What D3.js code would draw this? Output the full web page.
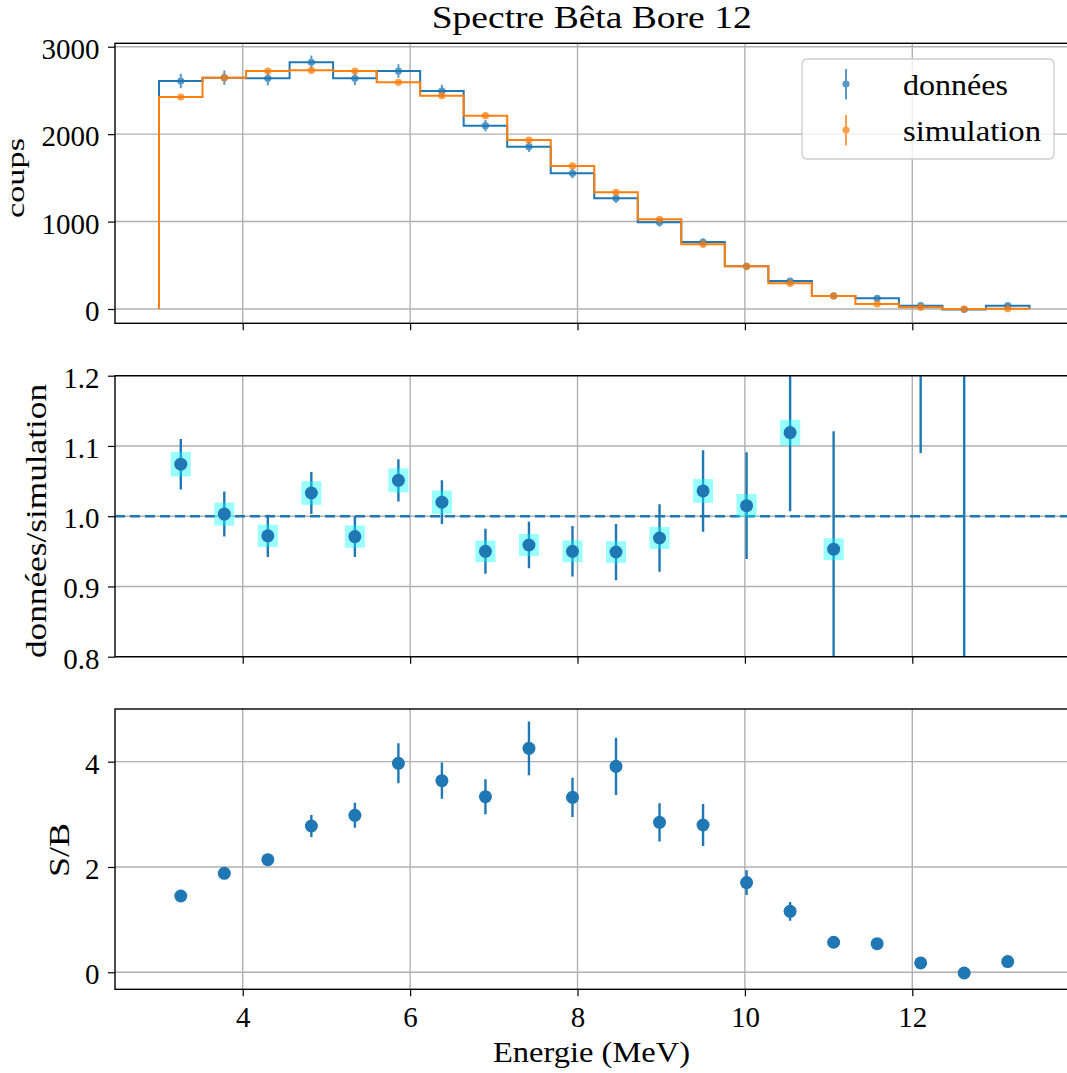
<!DOCTYPE html>
<html>
<head>
<meta charset="utf-8">
<script src="https://cdn.jsdelivr.net/npm/d3@7"></script>
<style>
html,body{margin:0;padding:0;background:#fff;}
svg{display:block;}
text{font-family:"Liberation Serif","DejaVu Serif",serif;fill:#000;}
</style>
</head>
<body>
<script>
// ---------- data ----------
const binCenters = [3.26, 3.78, 4.30, 4.82, 5.34, 5.86, 6.38, 6.90, 7.42, 7.94,
                    8.46, 8.98, 9.50, 10.02, 10.54, 11.06, 11.58, 12.10, 12.62, 13.14];
const dataCounts = [2608, 2646, 2638, 2821, 2638, 2722, 2493, 2097, 1857, 1552,
                    1266, 991, 766, 488, 320, 149, 122, 38, -5, 38];
const dataErr    = [82, 82, 80, 78, 78, 78, 70, 65, 60, 56,
                    52, 48, 42, 36, 31, 26, 22, 17, 15, 15];
const simCounts  = [2425, 2646, 2722, 2730, 2722, 2593, 2440, 2211, 1933, 1636,
                    1334, 1026, 740, 488, 294, 149, 57, 19, 0, 3];
const simErr     = [20, 21, 21, 21, 21, 20, 20, 19, 17, 16,
                    14, 12, 10, 8, 6, 5, 3, 2, 1, 1];
const ratio      = [1.074, 1.003, 0.972, 1.033, 0.971, 1.051, 1.020, 0.950, 0.959, 0.950,
                    0.949, 0.969, 1.036, 1.015, 1.119, 0.953, 2.14, 2.0, -0.5, null];
const ratioErr   = [0.036, 0.032, 0.030, 0.030, 0.029, 0.030, 0.031, 0.032, 0.033, 0.036,
                    0.040, 0.048, 0.058, 0.076, 0.112, 0.168, 0.5, 0.91, 2.5, null];
const sysRel = 0.0163;      // relative systematic band (cyan boxes)
const sysHalfWidth = 0.12;  // MeV
const sb         = [1.449, 1.880, 2.139, 2.778, 2.981, 3.968, 3.639, 3.335, 4.253, 3.323,
                    3.911, 2.848, 2.797, 1.703, 1.158, 0.570, 0.544, 0.177, -0.013, 0.203];
const sbErr      = [0.04, 0.06, 0.11, 0.209, 0.237, 0.38, 0.345, 0.332, 0.51, 0.373,
                    0.544, 0.364, 0.40, 0.234, 0.177, 0.06, 0.05, 0.03, 0.02, 0.04];
const xTicks = [4, 6, 8, 10, 12];
const countTicks = [0, 1000, 2000, 3000];
const ratioTicks = [0.8, 0.9, 1.0, 1.1, 1.2];
const sbTicks = [0, 2, 4];
const titleText = "Spectre Bêta Bore 12";
const xLabel = "Energie (MeV)";
const legendLabels = ["données", "simulation"];

// ---------- layout ----------
const W = 1067, H = 1073;
const BLUE = "#1f77b4", ORANGE = "#ff7f0e", GRID = "#b0b0b0";
const svg = d3.select("body").append("svg").attr("width", W).attr("height", H);

const x = d3.scaleLinear().domain([2.474, 13.92]).range([115, 1073]);
const panels = [
  {top: 43.3, bottom: 323.3, domain: [-163.6, 3039], ticks: countTicks, fmt: d3.format("d")},
  {top: 375.7, bottom: 656.7, domain: [0.8, 1.2], ticks: ratioTicks, fmt: d3.format(".1f")},
  {top: 709, bottom: 989.3, domain: [-0.323, 5.0], ticks: sbTicks, fmt: d3.format("d")}
];
panels.forEach((p, i) => {
  p.y = d3.scaleLinear().domain(p.domain).range([p.bottom, p.top]);
  p.g = svg.append("g");
  const cid = "clip" + i;
  svg.append("clipPath").attr("id", cid).append("rect")
    .attr("x", x.range()[0]).attr("y", p.top)
    .attr("width", x.range()[1] - x.range()[0]).attr("height", p.bottom - p.top);
  const grid = p.g.append("g");
  grid.selectAll("line.vx").data(xTicks).join("line")
    .attr("x1", d => x(d)).attr("x2", d => x(d)).attr("y1", p.top).attr("y2", p.bottom)
    .attr("stroke", GRID).attr("stroke-width", 1.4);
  grid.selectAll("line.hy").data(p.ticks).join("line")
    .attr("x1", x.range()[0]).attr("x2", x.range()[1]).attr("y1", d => p.y(d)).attr("y2", d => p.y(d))
    .attr("stroke", GRID).attr("stroke-width", 1.4);
  p.plot = p.g.append("g").attr("clip-path", `url(#${cid})`);
});

function addAxes(p, showXLabels) {
  const ax = p.g.append("g");
  const yAxis = d3.axisLeft(p.y).tickValues(p.ticks).tickFormat(p.fmt).tickSize(7).tickPadding(6);
  const ya = ax.append("g").attr("transform", `translate(${x.range()[0]},0)`).call(yAxis);
  ya.select(".domain").remove();
  ya.selectAll(".tick line").attr("stroke", "#000").attr("stroke-width", 1.2);
  ya.selectAll(".tick text").attr("font-size", 29).attr("dy", null)
    .attr("dominant-baseline", "alphabetic").attr("y", 11.5).attr("x", -15.5)
    .style("font-family", '"Liberation Serif", serif');
  const xAxis = d3.axisBottom(x).tickValues(xTicks).tickFormat(showXLabels ? d3.format("d") : "").tickSize(7).tickPadding(6);
  const xa = ax.append("g").attr("transform", `translate(0,${p.bottom})`).call(xAxis);
  xa.select(".domain").remove();
  xa.selectAll(".tick line").attr("stroke", "#000").attr("stroke-width", 1.2);
  xa.selectAll(".tick text").attr("font-size", 29).attr("dy", null)
    .attr("dominant-baseline", "alphabetic").attr("y", 37.5)
    .style("font-family", '"Liberation Serif", serif');
  ax.append("rect").attr("x", x.range()[0]).attr("y", p.top)
    .attr("width", x.range()[1] - x.range()[0]).attr("height", p.bottom - p.top)
    .attr("fill", "none").attr("stroke", "#000").attr("stroke-width", 1.4);
}

// ---------- panel 1: spectra ----------
const halfW = (binCenters[1] - binCenters[0]) / 2;
function stepPath(vals, ys) {
  const pts = [[binCenters[0] - halfW, 0]];
  vals.forEach((v, i) => {
    pts.push([binCenters[i] - halfW, v]);
    pts.push([binCenters[i] + halfW, v]);
  });
  pts.push([binCenters[binCenters.length - 1] + halfW, 0]);
  return d3.line().x(d => x(d[0])).y(d => ys(d[1]))(pts);
}
const p1 = panels[0];
p1.plot.append("path").attr("d", stepPath(dataCounts, p1.y)).attr("fill", "none")
  .attr("stroke", BLUE).attr("stroke-width", 2);
p1.plot.append("path").attr("d", stepPath(simCounts, p1.y)).attr("fill", "none")
  .attr("stroke", ORANGE).attr("stroke-width", 2);

function pointSeries(g, vals, errs, color) {
  vals.forEach((v, i) => {
    const gg = g.append("g").attr("opacity", 0.75);
    gg.append("line").attr("x1", x(binCenters[i])).attr("x2", x(binCenters[i]))
      .attr("y1", p1.y(v - errs[i])).attr("y2", p1.y(v + errs[i]))
      .attr("stroke", color).attr("stroke-width", 2);
    gg.append("circle").attr("cx", x(binCenters[i])).attr("cy", p1.y(v)).attr("r", 3.6).attr("fill", color);
  });
}
const gPts = p1.plot.append("g");
pointSeries(gPts, dataCounts, dataErr, BLUE);
pointSeries(gPts, simCounts, simErr, ORANGE);
addAxes(p1, false);

// legend
(function(){
  const lg = svg.append("g");
  lg.append("rect").attr("x", 802).attr("y", 59).attr("width", 252).attr("height", 100)
    .attr("rx", 5).attr("fill", "#fff").attr("fill-opacity", 0.8)
    .attr("stroke", "#cccccc").attr("stroke-width", 1.3);
  const colors = [BLUE, ORANGE];
  const cy = [84, 130];
  legendLabels.forEach((t, i) => {
    const g = lg.append("g").attr("opacity", 0.75);
    g.append("line").attr("x1", 846).attr("x2", 846).attr("y1", cy[i] - 15).attr("y2", cy[i] + 15.5)
      .attr("stroke", colors[i]).attr("stroke-width", 2);
    g.append("circle").attr("cx", 846).attr("cy", cy[i]).attr("r", 3.6).attr("fill", colors[i]);
    lg.append("text").attr("x", 903).attr("y", cy[i] + 11).attr("font-size", 30)
      .attr("textLength", i === 0 ? 105 : 138).attr("lengthAdjust", "spacingAndGlyphs").text(t);
  });
})();

// ---------- panel 2: ratio ----------
const p2 = panels[1];
const rIdx = ratio.map((v, i) => i).filter(i => ratio[i] !== null);
p2.plot.append("line").attr("x1", x.range()[0]).attr("x2", x.range()[1])
  .attr("y1", p2.y(1)).attr("y2", p2.y(1))
  .attr("stroke", BLUE).attr("stroke-width", 2.6).attr("stroke-dasharray", "10,5");
p2.plot.append("g").selectAll("line").data(rIdx).join("line")
  .attr("x1", i => x(binCenters[i])).attr("x2", i => x(binCenters[i]))
  .attr("y1", i => p2.y(ratio[i] - ratioErr[i])).attr("y2", i => p2.y(ratio[i] + ratioErr[i]))
  .attr("stroke", BLUE).attr("stroke-width", 2.4);
p2.plot.append("g").selectAll("rect").data(rIdx).join("rect")
  .attr("x", i => x(binCenters[i] - sysHalfWidth))
  .attr("width", i => x(binCenters[i] + sysHalfWidth) - x(binCenters[i] - sysHalfWidth))
  .attr("y", i => p2.y(ratio[i] * (1 + sysRel)))
  .attr("height", i => p2.y(ratio[i] * (1 - sysRel)) - p2.y(ratio[i] * (1 + sysRel)))
  .attr("fill", "#00ffff").attr("fill-opacity", 0.4);
p2.plot.append("g").selectAll("circle").data(rIdx).join("circle")
  .attr("cx", i => x(binCenters[i])).attr("cy", i => p2.y(ratio[i])).attr("r", 6.5)
  .attr("fill", BLUE);
addAxes(p2, false);

// ---------- panel 3: S/B ----------
const p3 = panels[2];
p3.plot.append("g").selectAll("line").data(sb.map((v, i) => i)).join("line")
  .attr("x1", i => x(binCenters[i])).attr("x2", i => x(binCenters[i]))
  .attr("y1", i => p3.y(sb[i] - sbErr[i])).attr("y2", i => p3.y(sb[i] + sbErr[i]))
  .attr("stroke", BLUE).attr("stroke-width", 2.4);
p3.plot.append("g").selectAll("circle").data(sb.map((v, i) => i)).join("circle")
  .attr("cx", i => x(binCenters[i])).attr("cy", i => p3.y(sb[i])).attr("r", 6.5)
  .attr("fill", BLUE);
addAxes(p3, true);

// ---------- titles / labels ----------
svg.append("text").attr("x", 591.7).attr("y", 27.5).attr("text-anchor", "middle")
  .attr("font-size", 32).attr("textLength", 320).attr("lengthAdjust", "spacingAndGlyphs").text(titleText);
svg.append("text").attr("x", 591.5).attr("y", 1062).attr("text-anchor", "middle")
  .attr("font-size", 30).attr("textLength", 197).attr("lengthAdjust", "spacingAndGlyphs").text(xLabel);
const yLabels = [
  {t: "coups", bx: 24, cy: 178, len: 80, fs: 25},
  {t: "données/simulation", bx: 46, cy: 521, len: 274, fs: 30},
  {t: "S/B", bx: 68.5, cy: 850, len: 54, fs: 30}
];
yLabels.forEach(l => {
  svg.append("text").attr("transform", `translate(${l.bx},${l.cy}) rotate(-90)`)
    .attr("text-anchor", "middle").attr("font-size", l.fs)
    .attr("textLength", l.len).attr("lengthAdjust", "spacingAndGlyphs").text(l.t);
});
</script>
</body>
</html>
